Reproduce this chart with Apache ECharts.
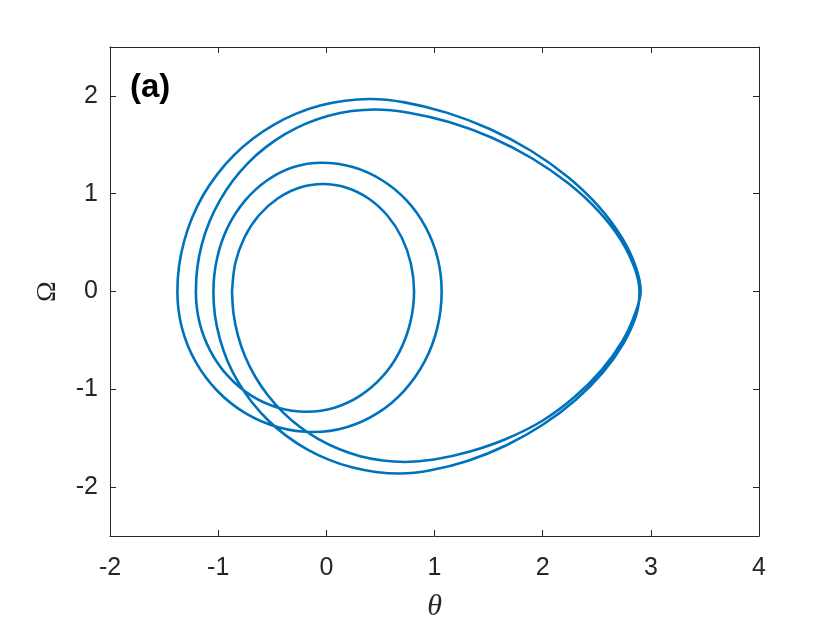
<!DOCTYPE html>
<html>
<head>
<meta charset="utf-8">
<script src="https://cdn.jsdelivr.net/npm/echarts@6/dist/echarts.min.js"></script>
<style>
  html, body { margin: 0; padding: 0; background: #fff; }
  #chart { width: 840px; height: 630px; }
</style>
</head>
<body>
<div id="chart"></div>
<script>
// phase portrait, [theta, Omega] pairs in travel order
// upper halves run left -> right, lower halves run right -> left
var upperD = [[-0.872,0],[-0.843,0.284],[-0.758,0.550],[-0.625,0.777],[-0.450,0.951],[-0.249,1.061],
  [-0.031,1.099],[0.187,1.061],[0.390,0.951],[0.564,0.777],[0.698,0.550],[0.782,0.284],[0.811,0]];
var lowerE = [[0.811,0],[0.776,-0.318],[0.677,-0.614],[0.520,-0.869],[0.314,-1.065],[0.076,-1.188],
  [-0.181,-1.229],[-0.446,-1.188],[-0.694,-1.065],[-0.906,-0.869],[-1.069,-0.614],[-1.172,-0.318],[-1.206,0]];
var upperB = [[-1.207,0],[-1.193,0.243],[-1.151,0.482],[-1.081,0.712],[-0.985,0.930],[-0.865,1.133],
  [-0.722,1.316],[-0.559,1.476],[-0.378,1.611],[-0.184,1.719],[0.021,1.798],[0.234,1.845],[0.450,1.861],
  [0.762,1.828],[1.142,1.730],[1.532,1.572],[1.904,1.360],[2.237,1.106],[2.514,0.824],[2.723,0.527],
  [2.851,0.237],[2.895,0]];
var lowerH = [[2.906,0],[2.866,-0.237],[2.749,-0.527],[2.559,-0.824],[2.307,-1.106],[2.004,-1.360],
  [1.665,-1.572],[1.311,-1.730],[0.965,-1.828],[0.681,-1.861],[0.456,-1.845],[0.235,-1.798],[0.021,-1.719],
  [-0.182,-1.611],[-0.369,-1.476],[-0.539,-1.316],[-0.688,-1.133],[-0.813,-0.930],[-0.913,-0.712],
  [-0.985,-0.482],[-1.030,-0.243],[-1.044,0]];
var upperC = [[-1.044,0],[-1.010,0.340],[-0.911,0.658],[-0.750,0.931],[-0.543,1.140],[-0.302,1.273],
  [-0.043,1.317],[0.245,1.273],[0.512,1.140],[0.742,0.931],[0.918,0.658],[1.029,0.340],[1.066,0]];
var lowerF = [[1.066,0],[1.026,-0.372],[0.908,-0.718],[0.719,-1.015],[0.473,-1.244],[0.187,-1.388],
  [-0.120,-1.437],[-0.445,-1.388],[-0.749,-1.244],[-1.009,-1.015],[-1.209,-0.718],[-1.335,-0.372],[-1.377,0]];
var upperA = [[-1.377,0],[-1.362,0.257],[-1.316,0.509],[-1.241,0.753],[-1.139,0.984],[-1.009,1.198],
  [-0.856,1.392],[-0.680,1.562],[-0.487,1.704],[-0.278,1.819],[-0.057,1.901],[0.171,1.951],[0.404,1.968],
  [0.723,1.934],[1.112,1.829],[1.511,1.662],[1.892,1.439],[2.233,1.171],[2.517,0.871],[2.729,0.557],
  [2.861,0.252],[2.906,0]];
var lowerG = [[2.895,0],[2.855,-0.225],[2.738,-0.506],[2.548,-0.798],[2.294,-1.079],[1.994,-1.324],
  [1.661,-1.508],[1.328,-1.636],[0.995,-1.718],[0.727,-1.743],[0.519,-1.728],[0.313,-1.684],[0.116,-1.611],
  [-0.072,-1.510],[-0.246,-1.383],[-0.403,-1.233],[-0.541,-1.061],[-0.657,-0.872],[-0.750,-0.667],
  [-0.817,-0.451],[-0.858,-0.227],[-0.872,0]];

var xTicks = [-2, -1, 0, 1, 2, 3, 4];
var yTicks = [-2, -1, 0, 1, 2];

// one closed trajectory; each following piece drops its shared start point
var pieces = [lowerE, upperB, lowerH, upperC, lowerF, upperA, lowerG];
var path = upperD.slice();
for (var i = 0; i < pieces.length; i++) {
  path = path.concat(pieces[i].slice(1));
}

var axisColor = '#262626';
var labelFont = 'Liberation Sans, Arial, sans-serif';

var myChart = echarts.init(document.getElementById('chart'));
var option = {
  animation: false,
  backgroundColor: '#fff',
  grid: { left: 110, right: 81, top: 47, bottom: 94 },
  xAxis: [{
    type: 'value', min: -2, max: 4, interval: 1,
    name: 'θ', nameLocation: 'middle', nameGap: 56,
    nameTextStyle: { fontFamily: 'Liberation Serif, serif', fontStyle: 'italic', fontSize: 30, color: axisColor },
    axisLine: { onZero: false, lineStyle: { color: axisColor, width: 1 } },
    axisTick: { inside: true, length: 6, lineStyle: { color: axisColor } },
    axisLabel: { margin: 20, fontSize: 25, fontFamily: labelFont, color: axisColor, customValues: xTicks },
    splitLine: { show: false }
  }, {
    type: 'value', min: -2, max: 4, interval: 1, position: 'top',
    axisLine: { onZero: false, lineStyle: { color: axisColor, width: 1 } },
    axisTick: { inside: true, length: 6, lineStyle: { color: axisColor } },
    axisLabel: { show: false },
    splitLine: { show: false }
  }],
  yAxis: [{
    type: 'value', min: -2.5, max: 2.5,
    name: 'Ω', nameLocation: 'middle', nameGap: 48, nameRotate: 90,
    nameTextStyle: { fontFamily: 'Liberation Serif, serif', fontSize: 28, color: axisColor },
    axisLine: { show: true, onZero: false, lineStyle: { color: axisColor, width: 1 } },
    axisTick: { show: true, inside: true, length: 6, lineStyle: { color: axisColor }, customValues: yTicks },
    axisLabel: { margin: 12, fontSize: 25, fontFamily: labelFont, color: axisColor, customValues: yTicks },
    splitLine: { show: false }
  }, {
    type: 'value', min: -2.5, max: 2.5, position: 'right',
    axisLine: { show: true, onZero: false, lineStyle: { color: axisColor, width: 1 } },
    axisTick: { show: true, inside: true, length: 6, lineStyle: { color: axisColor }, customValues: yTicks },
    axisLabel: { show: false },
    splitLine: { show: false }
  }],
  graphic: [{
    type: 'text', left: 130, top: 71,
    style: { text: '(a)', fontSize: 33, fontWeight: 'bold', fontFamily: labelFont, fill: '#000' }
  }],
  series: [{
    type: 'line',
    data: path,
    showSymbol: false,
    smooth: 0.3,
    lineStyle: { color: '#0072BD', width: 2.6 },
    itemStyle: { color: '#0072BD' }
  }]
};
myChart.setOption(option);
</script>
</body>
</html>
